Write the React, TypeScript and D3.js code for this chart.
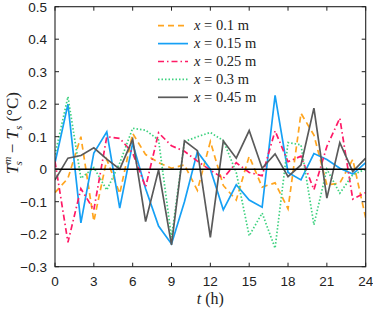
import React from 'react';
import * as d3 from 'd3';

const hours = d3.range(0, 25);
const xTicks = [0, 3, 6, 9, 12, 15, 18, 21, 24];
const yTicks = [-0.3, -0.2, -0.1, 0, 0.1, 0.2, 0.3, 0.4, 0.5];

const x010 = [-0.072, -0.028, 0.1, -0.16, 0.03, -0.075, 0.11, 0.045, 0.02, 0.003, 0.013, -0.065, 0.085, -0.05, -0.095, 0.04, -0.055, -0.042, -0.122, 0.172, 0.105, -0.048, -0.043, 0.03, -0.15];
const x015 = [0.02, 0.2, -0.165, 0.05, 0.115, -0.12, 0.08, -0.06, -0.175, -0.23, -0.1, 0.054, 0.0, -0.125, -0.048, -0.095, -0.117, 0.227, -0.01, -0.033, 0.048, 0.03, 0.003, -0.015, 0.02];
const x025 = [0.024, -0.225, -0.06, -0.125, 0.1, 0.095, 0.05, -0.055, 0.112, 0.072, 0.055, 0.025, -0.003, -0.028, 0.02, -0.01, -0.02, 0.118, 0.023, 0.04, -0.063, 0.07, 0.157, -0.092, -0.072];
const x030 = [0.045, 0.223, -0.028, 0.005, -0.064, 0.019, 0.126, 0.12, 0.09, -0.21, 0.085, 0.1, 0.113, 0.088, -0.01, -0.205, -0.135, -0.243, 0.082, 0.075, -0.171, 0.0, -0.074, -0.017, 0.0];
const x045 = [-0.033, 0.034, 0.042, 0.066, 0.031, 0.0, 0.092, -0.161, -0.002, -0.233, 0.087, 0.057, -0.21, 0.087, 0.034, 0.119, 0.003, 0.047, -0.023, 0.013, 0.188, -0.089, 0.082, -0.007, 0.034];

const seriesNames = ['0.1', '0.15', '0.25', '0.3', '0.45'];
const seriesValues = [x010, x015, x025, x030, x045];
const seriesColors = ['#ffa51f', '#16a0f5', '#ff1a66', '#3dd17f', '#5a5a5a'];
const seriesDash = ['6,4', '', '6,3,1.5,3', '1.5,2', ''];

const W = 373, H = 310;
const margin = { left: 55, right: 7.3, top: 6.7, bottom: 43.3 };

export default function App() {
  const x = d3.scaleLinear().domain([0, 24]).range([margin.left, W - margin.right]);
  const y = d3.scaleLinear().domain([-0.3, 0.5]).range([H - margin.bottom, margin.top]);
  const line = d3.line<number>().x((_, i) => x(hours[i])).y(d => y(d));
  const sans = 'Liberation Sans, Arial, Helvetica, sans-serif';
  const serif = 'Liberation Serif, DejaVu Serif, serif';
  const tickLen = 4;

  return (
    <svg width={W} height={H} style={{ position: 'absolute', left: 0, top: 0, background: '#fff' }}>
      <defs>
        <clipPath id="plot">
          <rect x={x(0)} y={y(0.5)} width={x(24) - x(0)} height={y(-0.3) - y(0.5)} />
        </clipPath>
      </defs>
      <g clipPath="url(#plot)">
        {seriesValues.map((vals, i) => (
          <path key={i} d={line(vals) || ''} fill="none" stroke={seriesColors[i]}
            strokeWidth={1.7} strokeDasharray={seriesDash[i]} />
        ))}
      </g>
      <line x1={x(0)} x2={x(24)} y1={y(0)} y2={y(0)} stroke="#000" strokeWidth={1.6} />
      <rect x={x(0)} y={y(0.5)} width={x(24) - x(0)} height={y(-0.3) - y(0.5)}
        fill="none" stroke="#222" strokeWidth={1.1} />
      {xTicks.map(t => (
        <g key={'x' + t}>
          <line x1={x(t)} x2={x(t)} y1={y(-0.3)} y2={y(-0.3) - tickLen} stroke="#222" />
          <line x1={x(t)} x2={x(t)} y1={y(0.5)} y2={y(0.5) + tickLen} stroke="#222" />
          <text x={x(t)} y={286} textAnchor="middle" fontFamily={sans} fontSize={13.5} fill="#222">{t}</text>
        </g>
      ))}
      {yTicks.map(t => (
        <g key={'y' + t}>
          <line x1={x(0)} x2={x(0) + tickLen} y1={y(t)} y2={y(t)} stroke="#222" />
          <line x1={x(24)} x2={x(24) - tickLen} y1={y(t)} y2={y(t)} stroke="#222" />
          <text x={47} y={y(t) + 5} textAnchor="end" fontFamily={sans} fontSize={13.5} fill="#222">
            {t === 0 ? '0' : d3.format('.1f')(t)}
          </text>
        </g>
      ))}
      <text x={x(12)} y={304} textAnchor="middle" fontFamily={serif} fontSize={16} fill="#222">
        <tspan fontStyle="italic">t</tspan> (h)
      </text>
      <text transform={`translate(18,133) rotate(-90)`} textAnchor="middle" fontFamily={serif} fontSize={17} fill="#222">
        <tspan fontStyle="italic">T</tspan>
        <tspan fontStyle="italic" fontSize={11} dy={-7}>m</tspan>
        <tspan fontStyle="italic" fontSize={11} dx={-9} dy={11}>s</tspan>
        <tspan dx={8} dy={-4}>− </tspan>
        <tspan fontStyle="italic">T</tspan>
        <tspan fontStyle="italic" fontSize={11} dy={4}>s</tspan>
        <tspan dy={-4}> (°C)</tspan>
      </text>
      {seriesNames.map((n, i) => {
        const ly = 25.7 + i * 17.9;
        return (
          <g key={'l' + i}>
            <line x1={158} x2={188} y1={ly} y2={ly} stroke={seriesColors[i]} strokeWidth={1.7}
              strokeDasharray={seriesDash[i]} />
            <text x={194} y={ly + 4.5} fontFamily={serif} fontSize={14.5} fill="#222">
              <tspan fontStyle="italic">x</tspan> = {n} m
            </text>
          </g>
        );
      })}
    </svg>
  );
}
